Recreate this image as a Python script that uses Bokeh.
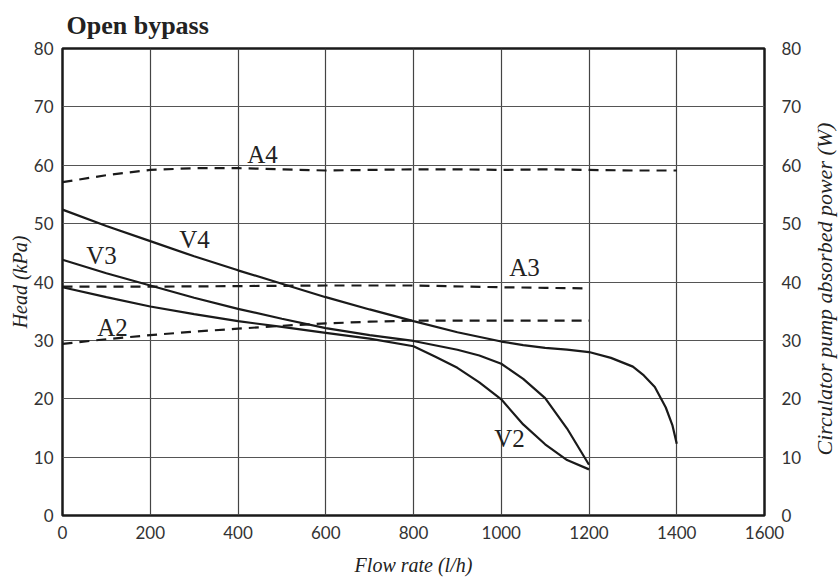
import math
from bokeh.plotting import figure
from bokeh.layouts import row
from bokeh.models import Range1d, LinearAxis, FixedTicker
from bokeh.core.properties import value
from bokeh.embed import file_html
from bokeh.resources import INLINE

# ---- data ----
x_ticks = [0, 200, 400, 600, 800, 1000, 1200, 1400, 1600]
y_ticks = [0, 10, 20, 30, 40, 50, 60, 70, 80]

flow_v4 = [0, 100, 200, 300, 400, 500, 600, 700, 800, 900, 1000, 1050, 1100, 1150, 1200, 1250, 1300, 1325, 1350, 1375, 1390, 1400]
head_v4 = [52.4, 49.6, 47.0, 44.4, 42.0, 39.7, 37.4, 35.3, 33.3, 31.4, 29.8, 29.2, 28.7, 28.4, 28.0, 27.0, 25.5, 24.0, 22.0, 18.5, 15.5, 12.3]

flow_v3 = [0, 100, 200, 300, 400, 500, 600, 700, 800, 900, 950, 1000, 1050, 1100, 1150, 1200]
head_v3 = [43.8, 41.5, 39.4, 37.3, 35.4, 33.7, 32.1, 30.9, 29.9, 28.4, 27.4, 26.0, 23.4, 20.1, 14.9, 8.7]

flow_v2 = [0, 100, 200, 300, 400, 500, 600, 700, 800, 850, 900, 950, 1000, 1050, 1100, 1150, 1200]
head_v2 = [39.1, 37.4, 35.8, 34.5, 33.3, 32.3, 31.3, 30.3, 29.0, 27.2, 25.3, 22.8, 19.9, 15.6, 12.2, 9.5, 7.9]

flow_a4 = [0, 100, 200, 300, 400, 500, 600, 700, 800, 900, 1000, 1100, 1200, 1300, 1400]
power_a4 = [57.1, 58.3, 59.2, 59.5, 59.5, 59.3, 59.1, 59.2, 59.3, 59.3, 59.2, 59.3, 59.2, 59.1, 59.1]

flow_a3 = [0, 200, 400, 600, 800, 1000, 1100, 1200]
power_a3 = [39.2, 39.2, 39.3, 39.4, 39.4, 39.1, 39.0, 38.9]

flow_a2 = [0, 100, 200, 300, 400, 500, 600, 700, 800, 1000, 1200]
power_a2 = [29.4, 30.2, 30.9, 31.5, 32.0, 32.5, 32.9, 33.2, 33.4, 33.4, 33.4]

label_text = ["A4", "V4", "V3", "A3", "A2", "V2"]
label_x = [456, 301, 89, 1053, 114, 1019]
label_y = [61.9, 47.3, 44.6, 42.5, 32.2, 13.2]

right_title = "Circulator pump absorbed power (W)"

# ---- main figure ----
BT, FH, BB = 47, 467, 63
p = figure(frame_width=702, frame_height=FH,
           min_border_left=62, min_border_right=46, min_border_top=BT, min_border_bottom=BB,
           x_range=Range1d(0, 1600), y_range=Range1d(0, 80),
           title="Open bypass",
           output_backend="svg", toolbar_location=None)
p.extra_y_ranges = {"power": Range1d(0, 80)}
right_axis = LinearAxis(y_range_name="power")
p.add_layout(right_axis, "right")

p.title.text_font = "Liberation Serif"
p.title.text_font_style = "bold"
p.title.text_font_size = "26px"
p.title.text_line_height = 1.0
p.title.text_color = "#222222"
p.title.align = "left"
p.title.offset = 4
p.title.standoff = 17

left_axis = p.left[0]
bottom_axis = p.below[0]

bottom_axis.ticker = FixedTicker(ticks=x_ticks)
left_axis.ticker = FixedTicker(ticks=y_ticks)
right_axis.ticker = FixedTicker(ticks=y_ticks)

for ax in [bottom_axis, left_axis, right_axis]:
    ax.axis_line_color = None
    ax.major_tick_line_color = None
    ax.minor_tick_line_color = None
    ax.major_tick_out = 0
    ax.major_tick_in = 0
    ax.major_label_text_font = "Lato"
    ax.major_label_text_font_size = "17px"
    ax.major_label_text_color = "#333333"
    ax.axis_label_text_font = "Liberation Serif"
    ax.axis_label_text_font_style = "italic"
    ax.axis_label_text_font_size = "20px"
    ax.axis_label_text_color = "#222222"

bottom_axis.major_label_standoff = 10
left_axis.major_label_standoff = 9
right_axis.major_label_standoff = 17
bottom_axis.axis_label = "Flow rate (l/h)"
bottom_axis.axis_label_standoff = 12
left_axis.axis_label = "Head (kPa)"
left_axis.axis_label_standoff = 0

p.xgrid.grid_line_color = "#444444"
p.ygrid.grid_line_color = "#555555"
p.xgrid.grid_line_width = 1.2
p.ygrid.grid_line_width = 1.2
p.outline_line_color = "#1a1a1a"
p.outline_line_width = 2.5
p.background_fill_color = "white"
p.border_fill_color = "white"

lc = "#1a1a1a"
p.line(flow_v4, head_v4, line_color=lc, line_width=2.2)
p.line(flow_v3, head_v3, line_color=lc, line_width=2.2)
p.line(flow_v2, head_v2, line_color=lc, line_width=2.2)
p.line(flow_a4, power_a4, line_color=lc, line_width=2.2, line_dash="10 7", y_range_name="power")
p.line(flow_a3, power_a3, line_color=lc, line_width=2.2, line_dash="10 7", y_range_name="power")
p.line(flow_a2, power_a2, line_color=lc, line_width=2.2, line_dash="10 7", y_range_name="power")

p.text(x=label_x, y=label_y, text=label_text, text_font=value("Liberation Serif"),
       text_font_size="25px", text_color="#222222", text_align="center", text_baseline="middle")

# ---- narrow strip carrying the right-hand axis title (reads bottom to top) ----
total_h = BT + FH + BB
strip = figure(frame_width=28, frame_height=total_h,
               min_border_left=0, min_border_right=0, min_border_top=0, min_border_bottom=0,
               x_range=Range1d(0, 1), y_range=Range1d(-BB, FH + BT),
               output_backend="svg", toolbar_location=None)
strip.axis.visible = False
strip.grid.visible = False
strip.outline_line_color = None
strip.background_fill_color = "white"
strip.border_fill_color = "white"
strip.text(x=[0.5], y=[FH / 2 + 40], text=[right_title], angle=math.pi / 2,
           text_font=value("Liberation Serif"), text_font_style="italic", text_font_size="22px",
           text_color="#222222", text_align="center", text_baseline="middle")

layout = row(p, strip, spacing=0)
open("out.html", "w").write(file_html(layout, INLINE))
